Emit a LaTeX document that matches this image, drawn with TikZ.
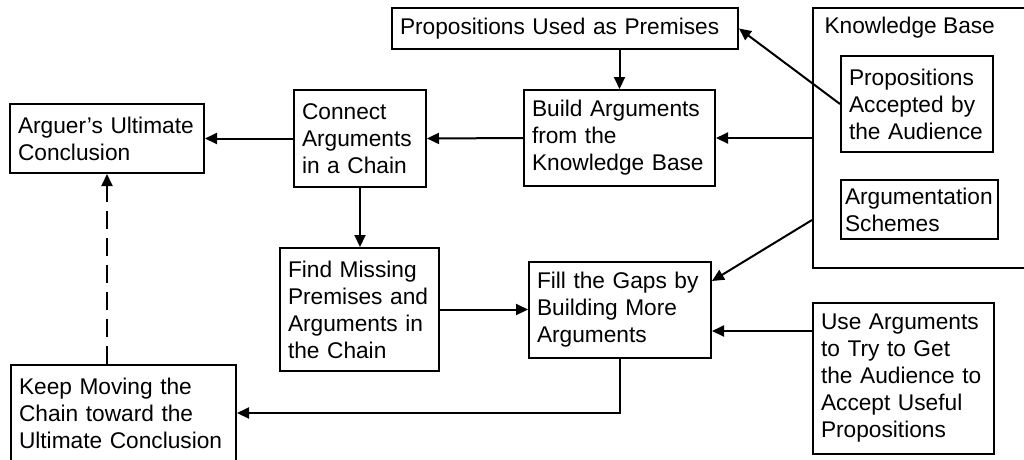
\documentclass[tikz,border=0pt]{standalone}
\usepackage{fontspec}
\setmainfont{Liberation Sans}
\usetikzlibrary{arrows.meta,calc}
\tikzset{
  box/.style={draw=black, line width=2pt, align=left, inner xsep=8pt, font=\fontsize{22.7}{27}\selectfont},
  lab/.style={font=\fontsize{22.7}{27}\selectfont},
  link/.style={draw=black, line width=2pt, -{Triangle[length=12pt,width=11pt]}},
  hint/.style={link, dash pattern=on 18pt off 9pt},
}

\begin{document}
\begin{tikzpicture}[x=1pt, y=-1pt]
\useasboundingbox (0,0) rectangle (1024,459);
\node[box, minimum width=346pt, minimum height=41pt, text width=330pt] (pup) at (565,28.5) {Propositions Used as Premises};
\node[box, minimum width=212pt, minimum height=260pt] (kb) at (919,138) {};
\node[lab, anchor=west] (kblab) at ([xshift=9pt,yshift=-21pt]kb.north west) {Knowledge Base};
\node[box, minimum width=152pt, minimum height=96pt, text width=136pt] (paa) at (917,104) {Propositions\\Accepted by\\the Audience};
\node[box, minimum width=157pt, minimum height=59pt, inner xsep=4pt, text width=149pt] (asch) at (919.5,209.5) {Argumentation\\Schemes};
\node[box, minimum width=191pt, minimum height=96pt, text width=175pt] (build) at (619.5,138) {Build Arguments\\from the\\Knowledge Base};
\node[box, minimum width=132pt, minimum height=97pt, text width=116pt] (conn) at (360,138.5) {Connect\\Arguments\\in a Chain};
\node[box, minimum width=194pt, minimum height=69pt, text width=178pt] (auc) at (107,138.5) {Arguer’s Ultimate\\Conclusion};
\node[box, minimum width=159pt, minimum height=123pt, text width=143pt] (find) at (359.5,309.5) {Find Missing\\Premises and\\Arguments in\\the Chain};
\node[box, minimum width=182pt, minimum height=96pt, text width=166pt] (fill) at (620,310) {Fill the Gaps by\\Building More\\Arguments};
\node[box, minimum width=181pt, minimum height=151pt, text width=165pt] (use) at (903.5,378.5) {Use Arguments\\to Try to Get\\the Audience to\\Accept Useful\\Propositions};
\node[box, minimum width=225pt, minimum height=96pt, text width=209pt] (keep) at (123.5,413) {Keep Moving the\\Chain toward the\\Ultimate Conclusion};
\draw[link] (pup.south -| build.north) -- (build.north);
\draw[link] (kb.west) -- (build.east);
\draw[link] (build.west) -- (conn.east);
\draw[link] (conn.west) -- (auc.east);
\draw[link] (paa.west) -- (pup.east);
\draw[link] (conn.south) -- (conn.south |- find.north);
\draw[link] (find.east) -- (find.east -| fill.west);
\draw[link] ([yshift=-82pt]kb.west) -- ([yshift=-20pt]fill.north east);
\coordinate (fillin) at ([yshift=-21pt]fill.east);
\draw[link] (use.west |- fillin) -- (fillin);
\draw[link] (fill.south) |- (keep.east);
\draw[hint] (keep.north -| auc.south) -- (auc.south);
\end{tikzpicture}
\end{document}
